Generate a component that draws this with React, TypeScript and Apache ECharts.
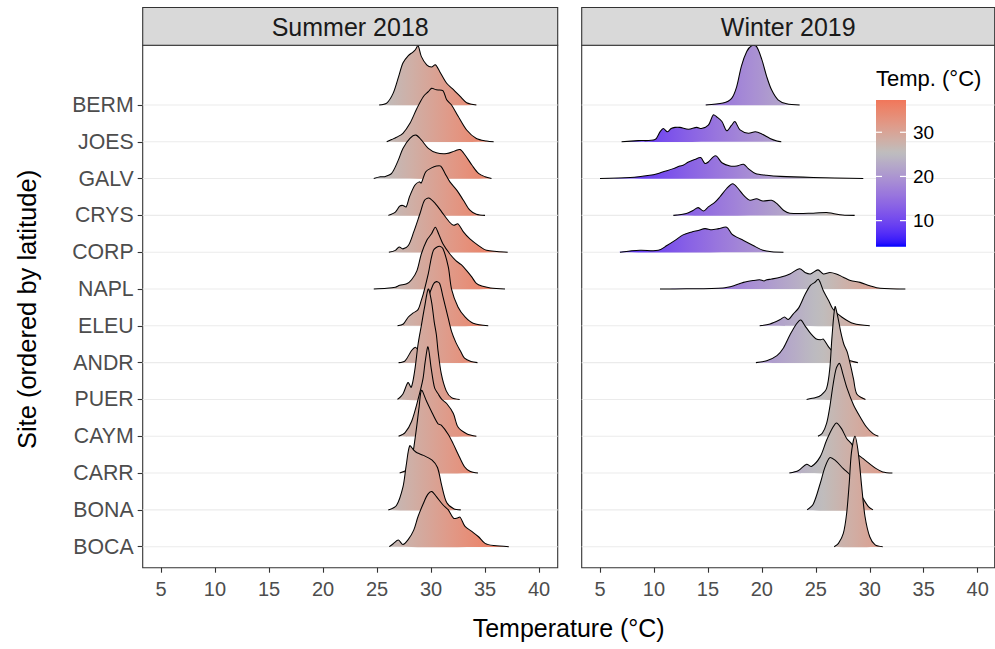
import { useEffect, useRef } from "react";
import * as echarts from "echarts";

type Pt = [number, number];

// ---------- categories, ticks, colour scale ----------
const sites = ["BERM", "JOES", "GALV", "CRYS", "CORP", "NAPL", "ELEU", "ANDR", "PUER", "CAYM", "CARR", "BONA", "BOCA"];
const panelTitles = ["Summer 2018", "Winter 2019"];
const xTickValues = [5, 10, 15, 20, 25, 30, 35, 40];
const legendTickValues = [10, 20, 30];
const fillLow = "#0000FF";
const fillMid = "#BEBEBE";
const fillHigh = "#FF0000";
const fillLimits = [4.1, 37.3];
const fillMidpoint = 25.4;

// ---------- ridges: [temperature, height in row units] ----------
const summerBERM: Pt[] = [[25.2,0],[25.9,0.05],[26.5,0.32],[27.0,0.77],[27.4,1.14],[27.9,1.34],[28.3,1.43],[28.55,1.5],[28.8,1.61],[29.1,1.32],[29.6,1.09],[30.05,1.03],[30.4,1.09],[30.8,0.91],[31.45,0.59],[32.1,0.41],[32.7,0.23],[33.3,0.06],[34.2,0]];
const summerJOES: Pt[] = [[25.9,0],[26.35,0.06],[26.8,0.12],[27.4,0.23],[28.05,0.5],[28.7,0.91],[29.3,1.23],[29.75,1.36],[30.05,1.45],[30.5,1.41],[31.1,1.39],[31.45,1.14],[31.9,1.0],[32.5,0.7],[33.3,0.32],[34.2,0.09],[35.15,0.02],[35.8,0]];
const summerGALV: Pt[] = [[24.7,0],[25.3,0.05],[25.7,0.05],[26.35,0.14],[26.97,0.5],[27.4,0.82],[28.05,1.09],[28.6,1.18],[29.1,1.05],[29.75,0.82],[30.5,0.7],[31.45,0.68],[32.2,0.75],[32.7,0.79],[33.15,0.64],[33.8,0.36],[34.4,0.14],[35.0,0.05],[35.6,0]];
const summerCRYS: Pt[] = [[26.05,0],[26.7,0.09],[27.1,0.25],[27.4,0.27],[27.7,0.23],[28.0,0.5],[28.5,0.82],[28.9,0.91],[29.1,0.88],[29.5,1.18],[30.05,1.29],[30.5,1.34],[30.9,1.34],[31.3,1.14],[31.75,0.91],[32.4,0.68],[33.0,0.41],[33.6,0.14],[34.2,0.03],[35.0,0]];
const summerCORP: Pt[] = [[26.1,0],[26.7,0.05],[27.05,0.14],[27.4,0.09],[27.9,0.18],[28.4,0.55],[28.98,1.05],[29.4,1.41],[29.8,1.47],[30.4,1.32],[31.0,1.09],[31.7,0.82],[32.1,0.73],[32.5,0.77],[33.0,0.55],[33.6,0.36],[34.4,0.18],[35.15,0.05],[36.1,0.02],[37.1,0]];
const summerNAPL: Pt[] = [[24.7,0],[25.9,0.02],[26.7,0.05],[27.1,0.1],[27.75,0.14],[28.2,0.25],[28.7,0.5],[29.1,0.95],[29.6,1.32],[30.05,1.5],[30.4,1.68],[30.7,1.5],[31.1,1.23],[31.75,0.95],[32.3,0.77],[32.8,0.66],[33.3,0.5],[33.77,0.33],[34.2,0.15],[34.7,0.08],[35.5,0.03],[36.85,0]];
const summerELEU: Pt[] = [[26.9,0],[27.44,0.05],[27.9,0.24],[28.36,0.35],[28.8,0.44],[29.1,0.69],[29.3,0.88],[29.75,1.42],[30.22,2.05],[30.75,2.16],[31.1,2.1],[31.6,1.6],[31.9,1.0],[32.5,0.51],[33.15,0.24],[33.9,0.07],[35.3,0]];
const summerANDR: Pt[] = [[27.0,0],[27.6,0.05],[28.2,0.33],[28.55,0.42],[28.8,0.36],[29.2,0.9],[29.7,1.7],[30.2,2.12],[30.5,2.2],[30.8,2.15],[31.1,1.8],[31.6,1.2],[31.9,0.85],[32.3,0.55],[32.75,0.3],[33.1,0.12],[33.7,0.03],[34.3,0]];
const summerPUER: Pt[] = [[26.9,0],[27.4,0.15],[27.87,0.46],[28.17,0.33],[28.5,0.8],[28.8,1.5],[29.1,2.0],[29.4,2.5],[29.75,3.0],[30.05,2.65],[30.3,2.1],[30.5,1.75],[30.65,1.32],[30.95,0.7],[31.4,0.24],[31.9,0.05],[32.65,0]];
const summerCAYM: Pt[] = [[27.0,0],[27.6,0.1],[28.2,0.4],[28.8,1.0],[29.25,1.55],[29.45,2.0],[29.72,2.43],[30.0,1.88],[30.2,1.5],[30.35,1.3],[30.64,1.16],[31.0,1.0],[31.45,0.89],[32.07,0.62],[32.5,0.25],[33.3,0.07],[34.2,0]];
const summerCARR: Pt[] = [[27.1,0],[27.8,0.1],[28.2,0.35],[28.6,1.1],[28.9,1.8],[29.12,2.25],[29.56,1.97],[30.0,1.7],[30.64,1.34],[30.95,1.3],[31.6,1.05],[32.05,0.8],[32.5,0.52],[33.1,0.17],[33.6,0.05],[34.35,0]];
const summerBONA: Pt[] = [[26.05,0],[26.8,0.12],[27.4,0.62],[27.7,1.2],[28.03,1.74],[28.4,1.62],[28.7,1.55],[29.3,1.48],[30.1,1.35],[30.6,1.15],[31.0,0.65],[31.45,0.2],[32.1,0.03],[32.75,0]];
const summerBOCA: Pt[] = [[26.14,0],[26.5,0.08],[26.98,0.18],[27.4,0.06],[27.9,0.2],[28.4,0.45],[28.8,0.82],[29.3,1.18],[29.7,1.42],[30.06,1.5],[30.5,1.36],[31.1,1.14],[31.6,1.0],[32.1,0.77],[32.45,0.78],[32.7,0.8],[33.15,0.55],[33.8,0.41],[34.4,0.27],[35.0,0.09],[35.8,0.03],[37.2,0]];

const winterBERM: Pt[] = [[14.8,0],[16.4,0.05],[17.2,0.18],[17.67,0.5],[18.1,1.05],[18.6,1.45],[19.05,1.61],[19.5,1.59],[20.0,1.23],[20.45,0.77],[20.9,0.41],[21.5,0.14],[22.3,0.03],[23.5,0]];
const winterJOES: Pt[] = [[7.0,0],[8.55,0.03],[10.1,0.06],[10.56,0.27],[10.87,0.36],[11.24,0.27],[11.6,0.36],[11.95,0.39],[12.4,0.39],[13.2,0.34],[13.96,0.39],[14.4,0.36],[15.04,0.45],[15.5,0.73],[15.8,0.68],[16.3,0.55],[16.74,0.3],[17.2,0.45],[17.5,0.55],[17.98,0.32],[18.75,0.23],[19.4,0.27],[20.0,0.21],[20.76,0.09],[21.4,0.02],[21.8,0]];
const winterGALV: Pt[] = [[5.0,0],[7.8,0.03],[9.6,0.09],[10.4,0.14],[11.2,0.21],[11.8,0.27],[12.4,0.34],[12.7,0.36],[13.2,0.45],[13.8,0.52],[14.33,0.57],[14.73,0.41],[15.04,0.45],[15.5,0.59],[15.8,0.61],[16.3,0.43],[17.05,0.34],[17.67,0.34],[18.3,0.39],[18.75,0.27],[19.4,0.14],[20.45,0.09],[21.7,0.06],[24.77,0.03],[29.4,0]];
const winterCRYS: Pt[] = [[11.8,0],[13.0,0.05],[13.65,0.14],[14.1,0.21],[14.6,0.12],[15.04,0.23],[15.66,0.36],[16.1,0.5],[16.74,0.73],[17.3,0.86],[17.8,0.73],[18.3,0.55],[18.9,0.41],[19.5,0.45],[20.1,0.39],[20.9,0.41],[21.4,0.32],[22.0,0.14],[22.6,0.06],[24.77,0.06],[26.0,0.08],[26.6,0.05],[27.5,0.01],[28.6,0]];
const winterCORP: Pt[] = [[6.85,0],[8.7,0.05],[10.4,0.05],[11.2,0.18],[11.95,0.32],[12.7,0.47],[13.5,0.55],[14.1,0.59],[14.73,0.64],[15.35,0.61],[16.0,0.64],[16.74,0.68],[17.2,0.5],[17.67,0.41],[18.3,0.32],[19.2,0.18],[20.1,0.05],[20.9,0.01],[22.0,0]];
const winterNAPL: Pt[] = [[10.56,0],[13.0,0.005],[16.4,0.03],[17.4,0.09],[18.3,0.18],[19.2,0.23],[19.8,0.25],[20.2,0.22],[20.45,0.25],[20.9,0.27],[21.7,0.32],[22.6,0.41],[23.5,0.55],[24.0,0.45],[24.5,0.41],[25.2,0.52],[25.7,0.41],[26.3,0.45],[26.9,0.41],[27.55,0.32],[28.2,0.23],[29.1,0.18],[30.0,0.09],[30.95,0.02],[33.3,0]];
const winterELEU: Pt[] = [[19.8,0],[20.76,0.05],[21.7,0.17],[22.1,0.24],[22.45,0.17],[22.9,0.32],[23.4,0.48],[24.0,0.85],[24.5,1.1],[24.9,1.18],[25.25,1.26],[25.7,0.95],[26.2,0.68],[26.6,0.45],[27.4,0.24],[28.5,0.06],[30.0,0]];
const winterANDR: Pt[] = [[19.45,0],[20.45,0.05],[21.4,0.19],[22.0,0.4],[22.6,0.75],[23.2,1.05],[23.6,1.16],[24.0,1.0],[24.5,0.8],[25.0,0.65],[25.45,0.62],[25.7,0.64],[26.2,0.42],[26.8,0.24],[27.9,0.08],[28.9,0]];
const winterPUER: Pt[] = [[24.15,0],[25.0,0.05],[25.5,0.12],[26.0,0.3],[26.3,0.85],[26.5,1.7],[26.78,2.52],[27.0,2.3],[27.3,1.85],[27.6,1.5],[27.9,1.3],[28.2,0.95],[28.5,0.55],[28.8,0.15],[29.6,0]];
const winterCAYM: Pt[] = [[25.2,0],[25.6,0.08],[26.0,0.35],[26.3,0.8],[26.6,1.4],[26.9,1.85],[27.2,1.98],[27.5,1.7],[27.9,1.3],[28.5,0.85],[29.1,0.53],[29.7,0.25],[30.3,0.07],[30.8,0]];
const winterCARR: Pt[] = [[22.55,0],[23.4,0.07],[24.15,0.24],[24.6,0.18],[25.4,0.44],[26.0,0.89],[26.6,1.25],[26.93,1.36],[27.4,1.2],[27.86,0.94],[28.3,0.8],[28.8,0.53],[29.4,0.39],[30.0,0.25],[30.6,0.12],[31.2,0.03],[32.1,0]];
const winterBONA: Pt[] = [[24.2,0],[24.77,0.16],[25.4,0.71],[25.85,1.16],[26.3,1.42],[26.78,1.35],[27.55,1.12],[28.2,0.94],[28.8,0.6],[29.4,0.3],[29.9,0.08],[30.3,0]];
const winterBOCA: Pt[] = [[26.7,0],[27.1,0.09],[27.55,0.36],[27.86,0.91],[28.1,1.73],[28.3,2.55],[28.63,3.0],[28.94,2.55],[29.25,1.64],[29.56,0.82],[30.0,0.27],[30.5,0.05],[31.2,0]];

const summerRidges = [summerBERM, summerJOES, summerGALV, summerCRYS, summerCORP, summerNAPL, summerELEU, summerANDR, summerPUER, summerCAYM, summerCARR, summerBONA, summerBOCA];
const winterRidges = [winterBERM, winterJOES, winterGALV, winterCRYS, winterCORP, winterNAPL, winterELEU, winterANDR, winterPUER, winterCAYM, winterCARR, winterBONA, winterBOCA];

// ---------- colour helpers (Lab interpolation like ggplot's gradient2) ----------
function hexToRgb(hex: string): number[] {
  const h = hex.replace("#", "");
  return [0, 2, 4].map((i) => parseInt(h.slice(i, i + 2), 16));
}
function rgbToLab(rgb: number[]): number[] {
  const lin = (c: number) => {
    c /= 255;
    return c <= 0.04045 ? c / 12.92 : Math.pow((c + 0.055) / 1.055, 2.4);
  };
  const R = lin(rgb[0]), G = lin(rgb[1]), B = lin(rgb[2]);
  const X = (0.4124564 * R + 0.3575761 * G + 0.1804375 * B) / 0.95047;
  const Y = 0.2126729 * R + 0.7151522 * G + 0.072175 * B;
  const Z = (0.0193339 * R + 0.119192 * G + 0.9503041 * B) / 1.08883;
  const f = (t: number) => (t > 0.008856 ? Math.cbrt(t) : 7.787 * t + 16 / 116);
  const fx = f(X), fy = f(Y), fz = f(Z);
  return [116 * fy - 16, 500 * (fx - fy), 200 * (fy - fz)];
}
function labToCss(lab: number[]): string {
  const fy = (lab[0] + 16) / 116;
  const fx = fy + lab[1] / 500;
  const fz = fy - lab[2] / 200;
  const inv = (t: number) => (t * t * t > 0.008856 ? t * t * t : (t - 16 / 116) / 7.787);
  const X = inv(fx) * 0.95047, Y = inv(fy), Z = inv(fz) * 1.08883;
  const R = 3.2404542 * X - 1.5371385 * Y - 0.4985314 * Z;
  const G = -0.969266 * X + 1.8760108 * Y + 0.041556 * Z;
  const B = 0.0556434 * X - 0.2040259 * Y + 1.0572252 * Z;
  const g = (c: number) => {
    const v = c <= 0.0031308 ? 12.92 * c : 1.055 * Math.pow(Math.max(c, 0), 1 / 2.4) - 0.055;
    return Math.round(Math.min(1, Math.max(0, v)) * 255);
  };
  return `rgb(${g(R)},${g(G)},${g(B)})`;
}
const labLow = rgbToLab(hexToRgb(fillLow));
const labMid = rgbToLab(hexToRgb(fillMid));
const labHigh = rgbToLab(hexToRgb(fillHigh));
function fillColor(t: number): string {
  const [lo, hi] = fillLimits;
  const d = Math.max(fillMidpoint - lo, hi - fillMidpoint);
  const p = 0.5 + (t - fillMidpoint) / (2 * d);
  const mix = (a: number[], b: number[], s: number) => a.map((v, i) => v + (b[i] - v) * s);
  return p < 0.5 ? labToCss(mix(labLow, labMid, p * 2)) : labToCss(mix(labMid, labHigh, (p - 0.5) * 2));
}
const STOP_COUNT = 40;
const gradientStops = Array.from({ length: STOP_COUNT + 1 }, (_, k) => {
  const t = fillLimits[0] + ((fillLimits[1] - fillLimits[0]) * k) / STOP_COUNT;
  return { offset: k / STOP_COUNT, color: fillColor(t) };
});

// ---------- layout ----------
const FONT = "'Liberation Sans', Arial, Helvetica, sans-serif";
const PANEL_LEFT = [142.7, 581.7];
const PANEL_WIDTH = [415, 413];
const PANEL_TOP = 45.3;
const PANEL_HEIGHT = 522.4;
const X_MIN = [3.306, 3.304];
const X_MAX = [41.73, 41.58];
const Y_MIN = 0.4295;
const Y_MAX = 14.62;
const STRIP_TOP = 7.5;
const LEG = { x: 876, top: 100, bottom: 246.7, w: 30 };

export default function App() {
  const ref = useRef<HTMLDivElement>(null);

  useEffect(() => {
    if (!ref.current) return;
    const chart = echarts.init(ref.current, undefined, { renderer: "svg" });
    const n = sites.length;
    const siteValues = sites.map((_, i) => n - i);

    const gridSeries = (k: number) => ({
      type: "custom",
      xAxisIndex: k,
      yAxisIndex: k,
      z: 1,
      silent: true,
      data: sites.map((_, i) => [i]),
      renderItem: (params: any, api: any) => {
        const y = api.coord([X_MIN[k], n - params.dataIndex])[1];
        const cs = params.coordSys;
        return {
          type: "line",
          shape: { x1: cs.x, y1: y, x2: cs.x + cs.width, y2: y },
          style: { stroke: "#EBEBEB", lineWidth: 1.1 },
        };
      },
    });

    const ridgeSeries = (k: number, ridges: Pt[][]) => ({
      type: "custom",
      xAxisIndex: k,
      yAxisIndex: k,
      z: 3,
      silent: true,
      data: ridges.map((_, i) => [i]),
      renderItem: (params: any, api: any) => {
        const i = params.dataIndex;
        const base = n - i;
        const pts = ridges[i].map(([t, h]) => api.coord([t, base + h]));
        const x0 = api.coord([fillLimits[0], base])[0];
        const x1 = api.coord([fillLimits[1], base])[0];
        const fill = new echarts.graphic.LinearGradient(x0, 0, x1, 0, gradientStops, true);
        return {
          type: "group",
          children: [
            { type: "polygon", z2: i * 2, shape: { points: pts, smooth: 0.3 }, style: { fill, stroke: "none" } },
            { type: "polyline", z2: i * 2 + 1, shape: { points: pts, smooth: 0.3 }, style: { fill: "none", stroke: "#000000", lineWidth: 1.05 } },
          ],
        };
      },
    });

    const textStyle = (text: string, size: number, color: string, align = "center", vAlign = "middle") => ({
      text,
      fill: color,
      fontSize: size,
      fontFamily: FONT,
      align,
      verticalAlign: vAlign,
      textAlign: align,
      textVerticalAlign: vAlign,
    });

    const legendY = (v: number) =>
      LEG.bottom - ((v - fillLimits[0]) / (fillLimits[1] - fillLimits[0])) * (LEG.bottom - LEG.top);

    const graphics: any[] = [];
    panelTitles.forEach((title, k) => {
      graphics.push({
        type: "rect",
        z: 10,
        shape: { x: PANEL_LEFT[k], y: STRIP_TOP, width: PANEL_WIDTH[k], height: PANEL_TOP - STRIP_TOP },
        style: { fill: "#D9D9D9", stroke: "#333333", lineWidth: 1.1 },
      });
      graphics.push({
        type: "text",
        z: 11,
        x: PANEL_LEFT[k] + PANEL_WIDTH[k] / 2,
        y: (STRIP_TOP + PANEL_TOP) / 2 + 0.5,
        style: textStyle(title, 25, "#1A1A1A"),
      });
    });
    graphics.push({
      type: "text",
      z: 10,
      x: (PANEL_LEFT[0] + PANEL_LEFT[1] + PANEL_WIDTH[1]) / 2,
      y: 628,
      style: textStyle("Temperature (°C)", 25, "#000000"),
    });
    graphics.push({
      type: "text",
      z: 10,
      x: 27,
      y: PANEL_TOP + PANEL_HEIGHT / 2 + 3,
      rotation: Math.PI / 2,
      style: textStyle("Site (ordered by latitude)", 25.5, "#000000"),
    });
    // legend
    graphics.push({
      type: "text",
      z: 10,
      x: LEG.x,
      y: 78,
      style: textStyle("Temp. (°C)", 22, "#000000", "left", "middle"),
    });
    graphics.push({
      type: "rect",
      z: 10,
      shape: { x: LEG.x, y: LEG.top, width: LEG.w, height: LEG.bottom - LEG.top },
      style: {
        fill: new echarts.graphic.LinearGradient(0, 1, 0, 0, gradientStops),
      },
    });
    legendTickValues.forEach((v) => {
      const y = legendY(v);
      graphics.push({ type: "line", z: 11, shape: { x1: LEG.x, y1: y, x2: LEG.x + 6, y2: y }, style: { stroke: "#FFFFFF", lineWidth: 1.2 } });
      graphics.push({ type: "line", z: 11, shape: { x1: LEG.x + LEG.w - 6, y1: y, x2: LEG.x + LEG.w, y2: y }, style: { stroke: "#FFFFFF", lineWidth: 1.2 } });
      graphics.push({ type: "text", z: 11, x: LEG.x + LEG.w + 7, y, style: textStyle(String(v), 19, "#000000", "left", "middle") });
    });

    const option: any = {
      animation: false,
      grid: [0, 1].map((k) => ({
        left: PANEL_LEFT[k],
        top: PANEL_TOP,
        width: PANEL_WIDTH[k],
        height: PANEL_HEIGHT,
        show: true,
        borderColor: "#333333",
        borderWidth: 1.1,
        backgroundColor: "transparent",
      })),
      xAxis: [0, 1].map((k) => ({
        type: "value",
        gridIndex: k,
        min: X_MIN[k],
        max: X_MAX[k],
        axisLine: { show: false },
        splitLine: { show: false },
        axisTick: { show: true, customValues: xTickValues, length: 5, lineStyle: { color: "#333333", width: 1.1 } },
        axisLabel: { customValues: xTickValues, margin: 11, color: "#4D4D4D", fontSize: 20, fontFamily: FONT },
      })),
      yAxis: [0, 1].map((k) => ({
        type: "value",
        gridIndex: k,
        min: Y_MIN,
        max: Y_MAX,
        axisLine: { show: false },
        splitLine: { show: false },
        axisTick: { show: k === 0, customValues: siteValues, length: 5, lineStyle: { color: "#333333", width: 1.1 } },
        axisLabel: {
          show: k === 0,
          customValues: siteValues,
          formatter: (v: number) => sites[n - Math.round(v)] ?? "",
          margin: 9,
          color: "#4D4D4D",
          fontSize: 21.3,
          fontFamily: FONT,
        },
      })),
      series: [gridSeries(0), gridSeries(1), ridgeSeries(0, summerRidges), ridgeSeries(1, winterRidges)],
      graphic: graphics,
    };
    chart.setOption(option);
    return () => chart.dispose();
  }, []);

  return (
    <div
      ref={ref}
      style={{ position: "fixed", left: 0, top: 0, width: 995, height: 649, background: "#FFFFFF" }}
    />
  );
}
